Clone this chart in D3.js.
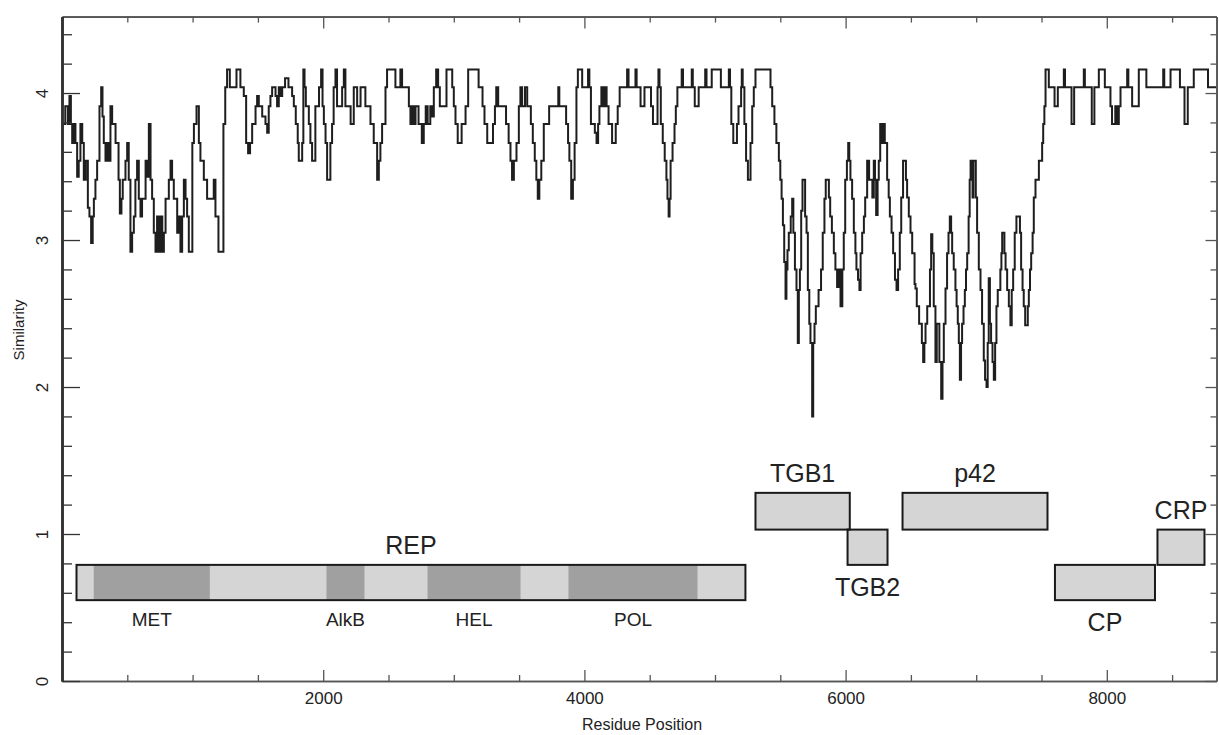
<!DOCTYPE html>
<html>
<head>
<meta charset="utf-8">
<script src="https://cdn.jsdelivr.net/npm/d3@7"></script>
<style>
  body { margin: 0; background: #fff; }
  svg text { font-family: "Liberation Sans", Arial, sans-serif; fill: #222; }
</style>
</head>
<body>
<svg id="chart" width="1219" height="735"></svg>
<script>
// similarity profile: [residue position, similarity]
let profile = [
  [0,3.79],[25,3.91],[45,3.79],[57,3.98],[68,3.79],[78,3.66],[90,3.79],[103,3.66],[116,3.43],[128,3.54],[141,3.79],[155,3.66],[167,3.41],[182,3.54],[198,3.22],[210,3.16],[223,2.98],[235,3.16],[244,3.28],[256,3.41],[269,3.54],[287,3.91],[300,4.04],[310,3.84],[320,3.66],[333,3.54],[346,3.66],[358,3.54],[371,3.91],[384,3.79],[410,3.66],[433,3.41],[443,3.18],[455,3.28],[465,3.41],[486,3.54],[499,3.66],[511,3.41],[524,2.92],[537,3.05],[550,3.16],[562,3.41],[575,3.54],[588,3.28],[601,3.16],[613,3.28],[640,3.54],[652,3.43],[665,3.79],[678,3.41],[690,3.28],[703,3.05],[716,2.92],[728,3.16],[741,2.92],[755,3.16],[768,2.92],[780,3.05],[793,3.28],[818,3.41],[831,3.54],[843,3.41],[856,3.28],[882,3.05],[895,3.16],[907,2.92],[920,3.16],[933,3.41],[946,3.28],[958,3.16],[971,2.92],[998,3.66],[1010,3.79],[1030,3.91],[1048,3.66],[1060,3.54],[1086,3.41],[1111,3.28],[1137,3.28],[1162,3.41],[1175,3.16],[1198,2.92],
  [1236,3.79],[1250,4.04],[1264,4.16],[1285,4.04],[1336,4.16],[1366,4.04],[1392,3.98],[1410,3.66],[1425,3.59],[1440,3.66],[1456,3.79],[1482,3.91],[1494,3.98],[1507,3.91],[1533,3.84],[1558,3.79],[1571,3.73],[1583,3.91],[1596,3.98],[1609,4.04],[1635,3.98],[1647,3.91],[1660,4.04],[1673,3.98],[1686,4.04],[1708,4.10],[1734,4.04],[1762,3.98],[1775,3.91],[1790,3.79],[1805,3.66],[1813,3.54],[1839,3.66],[1848,4.16],[1857,4.04],[1867,3.91],[1890,3.79],[1902,3.66],[1915,3.54],[1940,3.91],[1968,4.04],[1984,4.16],[1995,3.91],[2005,3.79],[2018,3.66],[2030,3.41],[2055,3.66],[2068,3.79],[2080,4.04],[2094,4.16],[2106,3.91],[2145,4.04],[2158,4.16],[2170,3.91],[2210,3.79],[2234,4.04],[2260,3.91],[2286,4.04],[2323,3.91],[2362,3.79],[2387,3.66],[2413,3.41],[2426,3.54],[2438,3.66],[2451,3.79],[2477,4.04],[2489,4.16],[2553,4.04],[2591,4.16],[2604,4.04],[2656,3.91],[2668,3.79],[2681,3.91],[2694,3.79],[2707,3.91],[2730,3.79],[2755,3.66],[2770,3.79],[2785,3.91],[2800,3.79],[2820,3.91],[2834,3.84],[2847,4.04],[2865,4.16],[2880,4.04],[2893,3.91],[2944,4.16],[2988,4.04],[3000,3.91],[3013,3.79],[3030,3.66],[3060,3.79],[3090,3.91],[3110,4.16],[3190,4.04],[3220,3.91],[3235,3.79],[3256,3.66],[3300,3.79],[3315,3.91],[3325,4.04],[3340,3.91],[3400,3.79],[3420,3.66],[3434,3.54],[3446,3.41],[3460,3.54],[3480,3.66],[3498,3.91],[3510,4.04],[3523,3.91],[3545,4.04],[3562,3.91],[3590,3.79],[3605,3.66],[3620,3.54],[3632,3.41],[3643,3.28],[3655,3.41],[3670,3.54],[3689,3.79],[3730,3.91],[3800,4.04],[3808,3.91],[3860,3.79],[3875,3.66],[3885,3.54],[3899,3.28],[3912,3.41],[3925,3.66],[3939,4.04],[3950,4.16],[3983,4.04],[4028,4.16],[4038,4.04],[4050,3.79],[4080,3.73],[4093,3.66],[4105,3.79],[4115,3.91],[4130,4.04],[4140,3.91],[4155,4.04],[4170,3.91],[4185,3.79],[4212,3.66],[4240,3.79],[4255,3.91],[4270,4.04],[4327,4.16],[4338,4.04],[4391,4.16],[4400,4.04],[4430,3.91],[4460,4.04],[4510,3.91],[4525,3.79],[4560,4.04],[4567,4.16],[4575,4.04],[4585,3.79],[4600,3.66],[4615,3.54],[4628,3.41],[4636,3.28],[4645,3.16],[4652,3.28],[4660,3.54],[4675,3.66],[4690,3.79],[4700,3.91],[4712,4.04],[4745,4.16],[4755,4.04],[4822,4.16],[4830,4.04],[4845,3.91],[4875,4.04],[4925,4.16],[4935,4.04],[4975,4.16],[5045,4.04],[5106,4.16],[5115,4.04],[5125,3.79],[5140,3.66],[5168,3.79],[5180,3.91],[5200,4.04],[5205,4.16],[5212,4.04],[5225,3.79],[5238,3.54],[5252,3.41],[5272,3.66],[5285,3.91],[5297,4.04],[5310,4.16],[5425,4.04],[5438,3.91],[5455,3.79],[5470,3.66],[5489,3.54],[5500,3.41],[5510,3.28],[5520,3.10],[5530,2.85],[5540,2.60],
  [5547,2.80],[5555,2.93],[5565,3.05],[5580,3.16],[5591,3.28],[5600,3.05],[5612,2.80],[5624,2.66],[5634,2.30],[5642,2.66],[5650,2.80],[5660,3.20],[5670,3.41],[5690,3.16],[5701,3.05],[5711,2.66],[5722,2.43],[5731,2.30],[5744,1.80],[5752,2.30],[5762,2.43],[5772,2.55],[5793,2.66],[5812,2.80],[5825,3.05],[5838,3.28],[5848,3.41],[5872,3.29],[5882,3.16],[5895,3.05],[5910,2.91],[5922,2.80],[5935,2.68],[5948,2.80],[5961,2.55],[5975,2.80],[5986,3.05],[5997,3.41],[6010,3.54],[6020,3.66],[6028,3.54],[6037,3.41],[6050,3.28],[6063,3.05],[6075,2.91],[6083,2.80],[6095,2.73],[6106,2.66],[6115,2.91],[6127,3.05],[6140,3.16],[6150,3.29],[6165,3.54],[6180,3.41],[6205,3.29],[6216,3.54],[6225,3.41],[6234,3.17],[6245,3.41],[6254,3.54],[6265,3.79],[6280,3.66],[6290,3.79],[6300,3.66],[6318,3.41],[6330,3.29],[6339,3.16],[6352,3.05],[6364,2.91],[6378,2.73],[6390,2.66],[6402,2.80],[6415,3.05],[6426,3.29],[6440,3.54],[6462,3.41],[6471,3.29],[6484,3.16],[6497,3.05],[6510,2.91],[6528,2.70],[6535,2.67],[6545,2.55],[6563,2.43],[6584,2.30],[6594,2.17],[6603,2.30],[6612,2.43],[6625,2.55],[6646,2.80],[6655,3.04],[6664,2.91],[6675,2.55],[6688,2.17],[6698,2.43],[6718,2.17],[6732,1.92],[6742,2.17],[6752,2.43],[6765,2.67],[6777,2.91],[6788,3.05],[6798,3.16],[6808,3.05],[6816,2.91],[6828,2.80],[6841,2.66],[6850,2.55],[6859,2.43],[6867,2.30],[6875,2.05],[6884,2.30],[6892,2.43],[6903,2.55],[6913,2.66],[6922,2.80],[6931,2.91],[6942,3.16],[6950,3.41],[6957,3.54],[6965,3.41],[6972,3.29],[6979,3.54],[6997,3.29],[7007,3.05],[7020,2.80],[7033,2.66],[7045,2.43],[7058,2.18],[7068,2.05],[7079,2.00],[7088,2.30],[7096,2.74],[7105,2.43],[7114,2.30],[7125,2.17],[7135,2.05],[7145,2.30],[7155,2.55],[7165,2.66],[7185,2.80],[7193,2.91],[7199,3.05],[7216,2.91],[7225,2.80],[7237,2.66],[7250,2.55],[7262,2.42],[7272,2.66],[7283,2.80],[7295,3.05],[7308,3.16],[7335,3.05],[7344,2.80],[7355,2.66],[7364,2.55],[7375,2.42],[7395,2.55],[7403,2.66],[7412,2.80],[7421,2.91],[7432,3.05],[7441,3.29],[7454,3.41],[7480,3.54],[7505,3.66],[7513,3.79],[7522,3.91],[7531,4.16],
  [7556,4.04],[7600,3.91],[7625,4.04],[7671,4.16],[7680,4.04],[7730,3.79],[7750,4.04],[7824,4.16],[7832,4.04],[7885,3.79],[7905,4.04],[7939,4.16],[7985,4.04],[8028,3.91],[8040,3.79],[8065,3.91],[8080,3.79],[8092,3.91],[8105,4.04],[8156,4.16],[8165,4.04],[8194,3.91],[8245,4.16],[8303,4.04],[8432,4.16],[8440,4.04],[8488,4.16],[8560,4.04],[8595,3.79],[8620,4.04],[8666,4.16],[8775,4.04],[8840,4.04]
];

// genome map
let geneNames = ['REP', 'TGB1', 'TGB2', 'p42', 'CP', 'CRP'];
let geneStart = [111, 5310, 6015, 6436, 7603, 8388];
let geneEnd = [5233, 6032, 6321, 7546, 8369, 8748];
let geneLow = [0.55, 1.03, 0.79, 1.03, 0.55, 0.79];
let geneHigh = [0.79, 1.28, 1.03, 1.28, 0.79, 1.03];
let geneLabelBelow = [false, false, true, false, true, false];

// REP domains
let domainNames = ['MET', 'AlkB', 'HEL', 'POL'];
let domainStart = [243, 2025, 2799, 3878];
let domainEnd = [1132, 2316, 3511, 4866];

// ticks
let xMajorTicks = [2000, 4000, 6000, 8000];
let xMinorTicks = [500, 1000, 1500, 2500, 3000, 3500, 4500, 5000, 5500, 6500, 7000, 7500, 8500];
let yMajorTicks = [0, 1, 2, 3, 4];
let yMinorTicks = [0.2, 0.4, 0.6, 0.8, 1.2, 1.4, 1.6, 1.8, 2.2, 2.4, 2.6, 2.8, 3.2, 3.4, 3.6, 3.8, 4.2, 4.4];

let svg = d3.select('#chart');

let x = d3.scaleLinear().domain([0, 8840]).range([62, 1216.5]);
let y = d3.scaleLinear().domain([0, 4.52]).range([681, 16.6]);

//Cajas de genes
let genes = geneNames.map((d, i) => ({name: d, start: geneStart[i], end: geneEnd[i], low: geneLow[i], high: geneHigh[i], below: geneLabelBelow[i]}));
let rep = genes[0];

svg.selectAll('rect.gene')
    .data(genes)
    .enter()
    .append('rect')
    .attr('class', 'gene')
    .attr('x', d => x(d.start))
    .attr('y', d => y(d.high))
    .attr('width', d => x(d.end) - x(d.start))
    .attr('height', d => y(d.low) - y(d.high))
    .attr('fill', '#d5d5d5');

svg.selectAll('rect.domain-box')
    .data(domainNames)
    .enter()
    .append('rect')
    .attr('class', 'domain-box')
    .attr('x', (d, i) => x(domainStart[i]))
    .attr('y', y(rep.high))
    .attr('width', (d, i) => x(domainEnd[i]) - x(domainStart[i]))
    .attr('height', y(rep.low) - y(rep.high))
    .attr('fill', '#a0a0a0');

svg.selectAll('rect.gene-border')
    .data(genes)
    .enter()
    .append('rect')
    .attr('class', 'gene-border')
    .attr('x', d => x(d.start))
    .attr('y', d => y(d.high))
    .attr('width', d => x(d.end) - x(d.start))
    .attr('height', d => y(d.low) - y(d.high))
    .attr('fill', 'none')
    .attr('stroke', '#1a1a1a')
    .attr('stroke-width', 2);

svg.selectAll('text.gene-label')
    .data(genes)
    .enter()
    .append('text')
    .attr('class', 'gene-label')
    .attr('x', d => x((d.start + d.end) / 2))
    .attr('y', d => d.below ? y(d.low) + 31 : y(d.high) - 11)
    .attr('text-anchor', 'middle')
    .style('font-size', '25px')
    .text(d => d.name);

svg.selectAll('text.domain-label')
    .data(domainNames)
    .enter()
    .append('text')
    .attr('class', 'domain-label')
    .attr('x', (d, i) => x((domainStart[i] + domainEnd[i]) / 2))
    .attr('y', y(rep.low) + 26)
    .attr('text-anchor', 'middle')
    .style('font-size', '19px')
    .text(d => d);

//Línea de similitud
let line = d3.line()
    .x(d => x(d[0]))
    .y(d => y(d[1]))
    .curve(d3.curveStepAfter);

svg.append('path')
    .datum(profile)
    .attr('fill', 'none')
    .attr('stroke', '#1e1e1e')
    .attr('stroke-width', 2)
    .attr('d', line);

//Ejes
function styleAxis(g, color, width) {
    g.select('.domain').attr('stroke', color).attr('stroke-width', width);
    g.selectAll('.tick line').attr('stroke', color).attr('stroke-width', 1.3);
}

let bottomMinor = svg.append('g').attr('transform', 'translate(0,681)')
    .call(d3.axisBottom(x).tickValues(xMinorTicks).tickSize(-6).tickSizeOuter(0).tickFormat(''));
styleAxis(bottomMinor, '#555', 1.6);

let bottomMajor = svg.append('g').attr('transform', 'translate(0,681)')
    .call(d3.axisBottom(x).tickValues(xMajorTicks).tickSize(-11).tickSizeOuter(0).tickPadding(11).tickFormat(d3.format('d')));
styleAxis(bottomMajor, '#555', 1.6);
bottomMajor.selectAll('.tick text').style('font-size', '17px').attr('fill', '#222');

let topMinor = svg.append('g').attr('transform', 'translate(0,16.6)')
    .call(d3.axisTop(x).tickValues(xMinorTicks).tickSize(-6).tickSizeOuter(0).tickFormat(''));
styleAxis(topMinor, '#555', 1.6);
let topMajor = svg.append('g').attr('transform', 'translate(0,16.6)')
    .call(d3.axisTop(x).tickValues(xMajorTicks).tickSize(-12).tickSizeOuter(0).tickFormat(''));
styleAxis(topMajor, '#555', 1.6);

let rightMinor = svg.append('g').attr('transform', 'translate(1216.5,0)')
    .call(d3.axisRight(y).tickValues(yMinorTicks).tickSize(-6).tickSizeOuter(0).tickFormat(''));
styleAxis(rightMinor, '#555', 1.6);
let rightMajor = svg.append('g').attr('transform', 'translate(1216.5,0)')
    .call(d3.axisRight(y).tickValues(yMajorTicks).tickSize(-11).tickSizeOuter(0).tickFormat(''));
styleAxis(rightMajor, '#555', 1.6);

let leftMinor = svg.append('g').attr('transform', 'translate(62,0)')
    .call(d3.axisLeft(y).tickValues(yMinorTicks).tickSize(-10).tickSizeOuter(0).tickFormat(''));
styleAxis(leftMinor, '#333', 2.6);
let leftMajor = svg.append('g').attr('transform', 'translate(62,0)')
    .call(d3.axisLeft(y).tickValues(yMajorTicks).tickSize(-18).tickSizeOuter(0).tickFormat(d3.format('d')));
styleAxis(leftMajor, '#333', 2.6);
leftMajor.selectAll('.tick text')
    .attr('x', 0)
    .attr('dy', '0.35em')
    .attr('text-anchor', 'middle')
    .attr('transform', 'translate(-20,0) rotate(-90)')
    .style('font-size', '17px')
    .attr('fill', '#222');

//Títulos de ejes
svg.append('text')
    .attr('x', 642)
    .attr('y', 730)
    .attr('text-anchor', 'middle')
    .style('font-size', '16px')
    .text('Residue Position');

svg.append('text')
    .attr('transform', 'translate(24,330) rotate(-90)')
    .attr('text-anchor', 'middle')
    .style('font-size', '15px')
    .text('Similarity');
</script>
</body>
</html>
